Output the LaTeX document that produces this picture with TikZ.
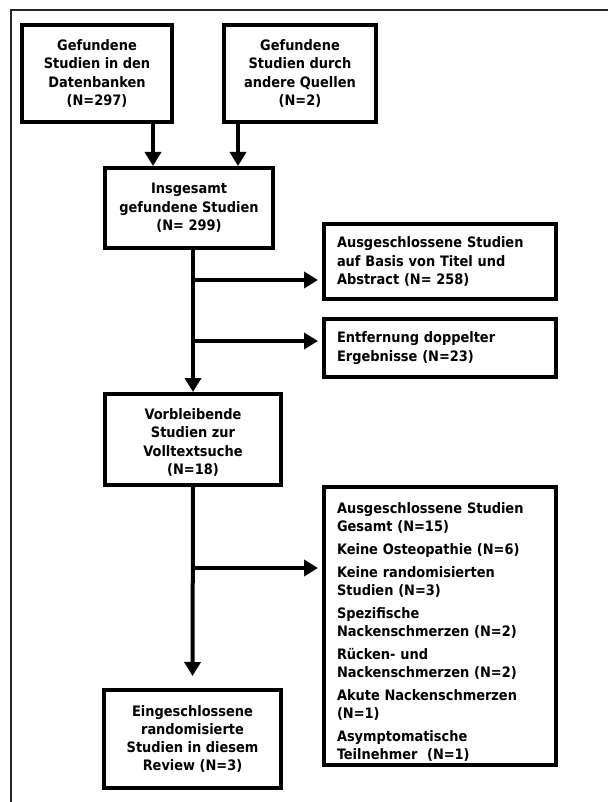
\documentclass[tikz,border=0pt]{standalone}
\usepackage{fontspec}
\setmainfont{DejaVu Sans Condensed}
\usetikzlibrary{arrows.meta,positioning}

\begin{document}
\begin{tikzpicture}[
    x=1pt, y=-1pt,
    box/.style={rectangle, draw=black, line width=4pt, fill=white, align=center, inner sep=0pt, font=\bfseries\fontsize{14.4}{18.3}\selectfont},
    listbox/.style={box, align=left, text width=206pt},
    flow/.style={-{Triangle[length=14pt, width=16pt]}, line width=4pt},
    frame/.style={line width=1.4pt, black!85}
]
    % Page and outer frame
    \useasboundingbox (0,0) rectangle (608,802);
    \draw[frame] (11,802) -- (11,10) -- (608,10);

    % Sources
    \node[box, minimum width=150pt, minimum height=97pt] (dbase) at (97,73.5) {Gefundene\\Studien in den\\Datenbanken\\(N=297)};
    \node[box, minimum width=152pt, minimum height=97pt] (other) at (300,73.5) {Gefundene\\Studien durch\\andere Quellen\\(N=2)};

    % Main column
    \node[box, minimum width=168pt, minimum height=80pt] (total) at (189,208) {Insgesamt\\gefundene Studien\\(N= 299)};
    \node[box, minimum width=176pt, minimum height=91pt] (remain) at (193,439.5) {\rule{0pt}{17pt}Vorbleibende\\Studien zur\\Volltextsuche\\(N=18)};
    \node[box, minimum width=177pt, minimum height=98pt] (incl) at (192.5,739) {Eingeschlossene\\randomisierte\\Studien in diesem\\Review (N=3)};

    % Exclusions
    \node[listbox, minimum width=232pt, minimum height=75pt] (titleabs) at (440,261.5) {Ausgeschlossene Studien\\auf Basis von Titel und\\Abstract (N= 258)};
    \node[listbox, minimum width=232pt, minimum height=58pt] (dupl) at (440,348) {Entfernung doppelter\\Ergebnisse (N=23)};
    \node[listbox, minimum width=232pt, minimum height=278pt] (excl) at (440,626) {\rule{0pt}{23pt}Ausgeschlossene Studien\\Gesamt (N=15)\\[4.4pt]
        Keine Osteopathie (N=6)\\[4.4pt]
        Keine randomisierten\\Studien (N=3)\\[4.4pt]
        Spezifische\\Nackenschmerzen (N=2)\\[4.4pt]
        Rücken- und\\Nackenschmerzen (N=2)\\[4.4pt]
        Akute Nackenschmerzen\\(N=1)\\[4.4pt]
        Asymptomatische\\Teilnehmer~~(N=1)};

    % Branch points
    \coordinate (split1) at (193,280);
    \coordinate (split2) at (193,341);
    \coordinate (split3) at (193,568);

    % Arrows
    \draw[flow] ([xshift=56pt]dbase.south) -- ([xshift=-36pt]total.north);
    \draw[flow] ([xshift=-62pt]other.south) -- ([xshift=49pt]total.north);
    \draw[flow] (total.south -| remain.north) -- (remain.north);
    \draw[flow, shorten >=4pt] (split1) -- (split1 -| titleabs.west);
    \draw[flow, shorten >=4pt] (split2) -- (split2 -| dupl.west);
    \draw[flow] (remain.south) -- ([yshift=12pt]incl.north);
    \draw[flow, shorten >=4pt] (split3) -- (split3 -| excl.west);
\end{tikzpicture}
\end{document}
